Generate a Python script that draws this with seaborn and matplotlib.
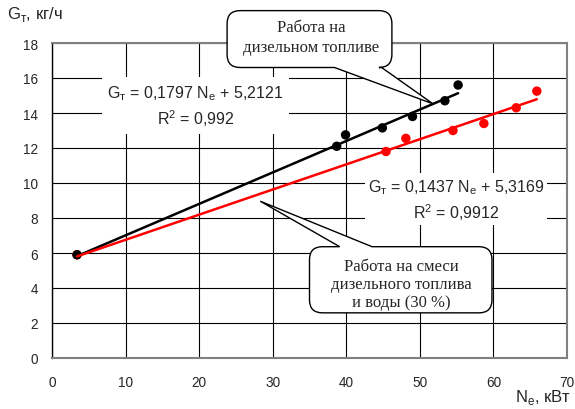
import numpy as np
import pandas as pd
import matplotlib
matplotlib.use("Agg")
import matplotlib.pyplot as plt
import seaborn as sns
from matplotlib.path import Path
from matplotlib.patches import PathPatch
from matplotlib.transforms import IdentityTransform

# Engine power (kW) and fuel consumption (kg/h)
power_diesel = [3.4, 38.7, 39.9, 44.9, 49.0, 53.4, 55.2]
fuel_diesel = [5.9, 12.1, 12.75, 13.15, 13.8, 14.7, 15.6]
power_mix = [3.4, 45.4, 48.1, 54.5, 58.7, 63.1, 65.9]
fuel_mix = [5.9, 11.8, 12.55, 13.0, 13.4, 14.3, 15.25]

# Linear trend coefficients (slope, intercept) and R^2
fit_diesel = (0.1797, 5.2121, "0,992")
fit_mix = (0.1437, 5.3169, "0,9912")

x_ticks = [0, 10, 20, 30, 40, 50, 60, 70]
y_ticks = [0, 2, 4, 6, 8, 10, 12, 14, 16, 18]

sns.set_style("white")
plt.rcParams["font.family"] = ["Liberation Sans", "DejaVu Sans"]
plt.rcParams["mathtext.fontset"] = "custom"
plt.rcParams["mathtext.rm"] = "Liberation Sans"

fig = plt.figure(figsize=(5.75, 4.10), dpi=100)
ax = fig.add_axes([52 / 575, 51 / 410, 515 / 575, 315 / 410])

df_d = pd.DataFrame({"N": power_diesel, "G": fuel_diesel})
df_m = pd.DataFrame({"N": power_mix, "G": fuel_mix})

sns.scatterplot(data=df_m, x="N", y="G", color="#ff0000", s=46, edgecolor="none",
                ax=ax, zorder=3)
sns.scatterplot(data=df_d, x="N", y="G", color="black", s=46, edgecolor="none",
                ax=ax, zorder=4)

def trend(xs, fit):
    x = np.array([min(xs), max(xs)])
    return pd.DataFrame({"N": x, "G": fit[0] * x + fit[1]})

sns.lineplot(data=trend(power_diesel, fit_diesel), x="N", y="G", color="black",
             lw=1.8, ax=ax, zorder=5)
sns.lineplot(data=trend(power_mix, fit_mix), x="N", y="G", color="#ff0000",
             lw=1.8, ax=ax, zorder=6)

ax.set_xlim(0, 70)
ax.set_ylim(0, 18)
ax.set_xticks(x_ticks)
ax.set_yticks(y_ticks)
ax.set_xticklabels([str(v) for v in x_ticks], fontsize=9.8)
ax.set_yticklabels([str(v) for v in y_ticks], fontsize=9.8)
ax.set_xlabel("")
ax.set_ylabel("")
ax.grid(True, color="black", lw=0.8)
ax.set_axisbelow(True)
ax.tick_params(axis="x", direction="out", length=4, width=0.8, color="black", pad=8)
ax.tick_params(axis="y", direction="out", length=4, width=0.8, color="black", pad=6)
for side in ["top", "right", "bottom"]:
    ax.spines[side].set_color("#808080")
    ax.spines[side].set_linewidth(1.5)
ax.spines["left"].set_color("black")
ax.spines["left"].set_linewidth(1.0)

fig.text(7 / 575, 1 - 15 / 410, "G$_\\mathregular{т}$, кг/ч", fontsize=12,
         ha="left", va="center")
fig.text(571 / 575, 1 - 398 / 410, "N$_\\mathregular{е}$, кВт", fontsize=12,
         ha="right", va="center")

# Trend equations
def equation(fit):
    return ("G$_\\mathregular{т}$ = %s N$_\\mathregular{е}$ + %s\nR$^\\mathregular{2}$ = %s"
            % (str(fit[0]).replace(".", ","), str(fit[1]).replace(".", ","), fit[2]))

ax.text(19.5, 14.42, equation(fit_diesel),
        ha="center", va="center", multialignment="center", fontsize=11.5,
        linespacing=1.35, zorder=7,
        bbox=dict(facecolor="white", edgecolor="none", pad=4))
ax.text(54.9, 9.06, equation(fit_mix),
        ha="center", va="center", multialignment="center", fontsize=11.5,
        linespacing=1.35, zorder=7,
        bbox=dict(facecolor="white", edgecolor="none", pad=2))


def callout(box, base, tip, side, r=13):
    (x0, y0), (x1, y1) = ax.transData.transform([(box[0], box[2]), (box[1], box[3])])
    L, R, B, T = x0, x1, y0, y1
    bx0 = ax.transData.transform((base[0], 0))[0]
    bx1 = ax.transData.transform((base[1], 0))[0]
    tx, ty = ax.transData.transform(tip)
    verts = [(L + r, B)]
    codes = [Path.MOVETO]
    if side == "bottom":
        verts += [(bx0, B), (tx, ty), (bx1, B)]
        codes += [Path.LINETO] * 3
    verts += [(R - r, B), (R, B), (R, B + r), (R, T - r), (R, T), (R - r, T)]
    codes += [Path.LINETO, Path.CURVE3, Path.CURVE3, Path.LINETO, Path.CURVE3, Path.CURVE3]
    if side == "top":
        verts += [(bx1, T), (tx, ty), (bx0, T)]
        codes += [Path.LINETO] * 3
    verts += [(L + r, T), (L, T), (L, T - r), (L, B + r), (L, B), (L + r, B)]
    codes += [Path.LINETO, Path.CURVE3, Path.CURVE3, Path.LINETO, Path.CURVE3, Path.CURVE3]
    patch = PathPatch(Path(verts, codes), facecolor="white", edgecolor="black",
                      lw=1.0, transform=IdentityTransform(), zorder=8)
    fig.add_artist(patch)


x_tip1 = 51.8
callout((23.8, 46.2, 16.6, 19.85), (38.4, 44.8),
        (x_tip1, fit_diesel[0] * x_tip1 + fit_diesel[1]), "bottom")
callout((35.0, 59.8, 2.58, 6.36), (39.1, 43.5), (28.3, 8.96), "top")

fig.text(311 / 575, 1 - 38 / 410, "Работа на\nдизельном топливе",
         family=["Liberation Serif", "DejaVu Serif"], fontsize=12,
         ha="center", va="center", linespacing=1.25, zorder=9)
fig.text(401 / 575, 1 - 285 / 410, "Работа на смеси\nдизельного топлива\nи воды (30 %)",
         family=["Liberation Serif", "DejaVu Serif"], fontsize=12,
         ha="center", va="center", linespacing=1.15, zorder=9)

fig.savefig("out.png", dpi=100)
